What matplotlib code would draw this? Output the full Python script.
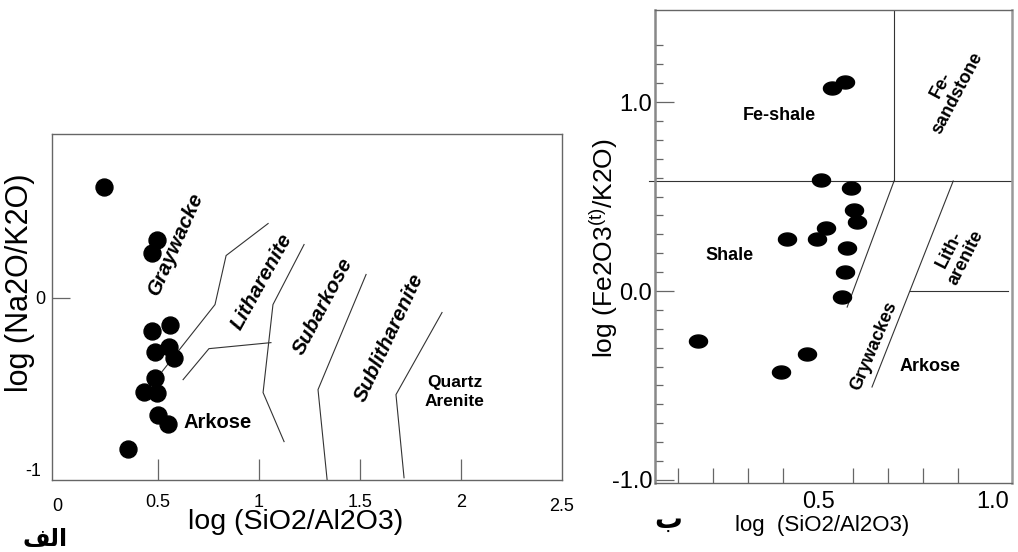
import numpy as np
import matplotlib
matplotlib.use("Agg")
import matplotlib.pyplot as plt
from matplotlib.path import Path

plt.rcParams['font.family'] = ['Liberation Sans', 'DejaVu Sans']
plt.rcParams['mathtext.fontset'] = 'custom'
plt.rcParams['mathtext.rm'] = 'Liberation Sans'
plt.rcParams['mathtext.it'] = 'Liberation Sans:italic'
plt.rcParams['mathtext.bf'] = 'Liberation Sans:bold'

# ---------------- data: panel A ----------------
a_x = [0.233, 0.495, 0.470, 0.470, 0.559, 0.485, 0.554, 0.579, 0.485, 0.431, 0.495, 0.500, 0.550, 0.351]
a_y = [0.645, 0.337, 0.256, -0.192, -0.157, -0.314, -0.285, -0.349, -0.465, -0.547, -0.552, -0.680, -0.733, -0.878]

a_line1_x = [1.045, 0.837, 0.782, 0.520]
a_line1_y = [0.430, 0.244, -0.041, -0.430]
a_line2_x = [0.624, 0.752, 1.059]
a_line2_y = [-0.477, -0.297, -0.262]
a_line3_x = [1.223, 1.069, 1.020, 1.124]
a_line3_y = [0.308, -0.041, -0.552, -0.837]
a_line4_x = [1.530, 1.292, 1.337]
a_line4_y = [0.134, -0.535, -1.058]
a_line5_x = [1.906, 1.678, 1.718]
a_line5_y = [-0.087, -0.564, -1.047]

a_xticks = [0.5, 1, 1.5, 2]
a_xticklabels = ['0.5', '1', '1.5', '2']
a_xticks_nomark = [0, 2.5]
a_xticklabels_nomark = ['0', '2.5']

# ---------------- data: panel B ----------------
b_x = [0.540, 0.577, 0.509, 0.594, 0.603, 0.611, 0.523, 0.411, 0.497, 0.583, 0.577, 0.569, 0.157, 0.469, 0.394]
b_y = [1.074, 1.106, 0.587, 0.545, 0.429, 0.365, 0.333, 0.275, 0.275, 0.227, 0.100, -0.032, -0.265, -0.333, -0.429]

b_hline_y = 0.582
b_vline_x = 0.717
b_diag1_x = [0.717, 0.583]
b_diag1_y = [0.582, -0.085]
b_diag2_x = [0.886, 0.654]
b_diag2_y = [0.582, -0.508]
b_short_x = [0.762, 1.043]
b_short_y = [0.0, 0.0]

fig = plt.figure(figsize=(10.18, 5.52), dpi=100)

spine_col = '#666666'
line_col = '#333333'

# ================= Panel A =================
ax1 = fig.add_axes([52/1018, 1-480/552, 510/1018, 346/552])
ax1.set_xlim(-0.025, 2.5)
ax1.set_ylim(-1.06, 0.95)
for s in ax1.spines.values():
    s.set_color(spine_col)
    s.set_linewidth(1.0)

for lx, ly in [(a_line1_x, a_line1_y), (a_line2_x, a_line2_y), (a_line3_x, a_line3_y),
               (a_line4_x, a_line4_y), (a_line5_x, a_line5_y)]:
    ax1.plot(lx, ly, color=line_col, lw=0.8, zorder=1)

ax1.plot(a_x, a_y, 'o', color='black', ms=12.2, mec='black', zorder=3)

ax1.set_xticks(a_xticks, a_xticklabels)
ax1.set_xticks(a_xticks_nomark, a_xticklabels_nomark, minor=True)
ax1.set_yticks([0], ['0'])
ax1.set_yticks([-1], ['-1'], minor=True)
ax1.tick_params(axis='x', which='major', direction='in', length=15, width=0.9,
                color=spine_col, labelsize=13, pad=10)
ax1.tick_params(axis='x', which='minor', length=0, labelsize=13, pad=13)
ax1.tick_params(axis='y', which='major', direction='in', length=13, width=0.9,
                color=spine_col, labelsize=13, pad=5)
ax1.tick_params(axis='y', which='minor', length=0, labelsize=13, pad=8)

ax1.set_xlabel('log (SiO2/Al2O3)', fontsize=20.5)
ax1.xaxis.set_label_coords((296-52)/510, (480-522)/346)
ax1.set_ylabel('log (Na2O/K2O)', fontsize=22)
ax1.yaxis.set_label_coords((20-52)/510, (480-283)/346)
ax1.xaxis.label.set_va('center')
ax1.yaxis.label.set_va('center')

lab = dict(fontweight='bold', fontstyle='italic', fontsize=15,
           ha='center', va='center', rotation_mode='anchor')
ax1.text(0.588, 0.315, 'Graywacke', rotation=66, **lab)
ax1.text(1.013, 0.09, 'Litharenite', rotation=61, **lab)
ax1.text(1.316, -0.052, 'Subarkose', rotation=62, **lab)
ax1.text(1.644, -0.233, 'Sublitharenite', rotation=65, **lab)
ax1.text(0.797, -0.727, 'Arkose', fontweight='bold', fontsize=14.5, ha='center', va='center')
ax1.text(1.97, -0.55, 'Quartz\nArenite', fontweight='bold', fontsize=12.5,
         ha='center', va='center', linespacing=1.3)

fig.text(45/1018, 1-546/552, '\ufed2\ufedf\ufe8d', fontsize=17, fontweight='bold',
         family=['DejaVu Sans'], ha='center', va='baseline')

# ================= Panel B =================
ax2 = fig.add_axes([655/1018, 1-483/552, 357/1018, 473/552])
ax2.set_xlim(0.034, 1.054)
ax2.set_ylim(-1.016, 1.487)
for s in ax2.spines.values():
    s.set_color(spine_col)
    s.set_linewidth(1.0)
ax2.spines['left'].set_color('#888888')
ax2.spines['left'].set_linewidth(1.8)
ax2.spines['right'].set_color('#999999')
ax2.spines['right'].set_linewidth(1.8)

ax2.plot([0.018, 1.054], [b_hline_y, b_hline_y], color=line_col, lw=0.8, clip_on=False, zorder=1)
ax2.plot([b_vline_x, b_vline_x], [b_hline_y, 1.487], color=line_col, lw=0.8, zorder=1)
ax2.plot(b_diag1_x, b_diag1_y, color=line_col, lw=0.8, zorder=1)
ax2.plot(b_diag2_x, b_diag2_y, color=line_col, lw=0.8, zorder=1)
ax2.plot(b_short_x, b_short_y, color=line_col, lw=0.8, zorder=1)

th = np.linspace(0, 2*np.pi, 80)
ell = Path(np.column_stack([np.cos(th), 0.72*np.sin(th)]), closed=True)
ax2.plot(b_x, b_y, linestyle='none', marker=ell, color='black', ms=13, zorder=3)

ax2.set_yticks([-1.0, 0.0, 1.0], ['-1.0', '0.0', '1.0'])
ax2.set_yticks(np.round(np.arange(-0.9, 1.35, 0.1), 2), minor=True)
ax2.set_xticks([0.5, 1.0], ['0.5', '1.0'])
ax2.set_xticks([0.1, 0.2, 0.3, 0.4, 0.5, 0.6, 0.7, 0.8, 0.9], minor=True)
ax2.tick_params(axis='y', which='major', direction='in', length=14, width=0.9,
                color=spine_col, labelsize=17, pad=2)
ax2.tick_params(axis='y', which='minor', direction='in', length=6, width=0.9, color=spine_col)
ax2.tick_params(axis='x', which='major', length=0, labelsize=17, pad=6)
ax2.tick_params(axis='x', which='minor', direction='in', length=11, width=0.9, color=spine_col)

ax2.set_xlabel('log  (SiO2/Al2O3)', fontsize=16)
ax2.xaxis.set_label_coords((822-655)/357, (483-526)/473)
ax2.xaxis.label.set_va('center')
ax2.set_ylabel(r'log (Fe2O3$^{\mathrm{(t)}}$/K2O)', fontsize=19)
ax2.yaxis.set_label_coords((604-655)/357, (483-248)/473)
ax2.yaxis.label.set_va('center')

bl = dict(fontweight='bold', fontsize=13, ha='center', va='center')
ax2.text(0.39, 0.93, 'Fe-shale', **bl)
ax2.text(0.246, 0.19, 'Shale', **bl)
ax2.text(0.82, -0.40, 'Arkose', **bl)
ax2.text(0.66, -0.29, 'Grywackes', rotation=67, rotation_mode='anchor', **bl)
ax2.text(0.875, 1.07, 'Fe-\nsandstone', rotation=62, rotation_mode='anchor',
         linespacing=1.1, **bl)
ax2.text(0.90, 0.20, 'Lith-\narenite', rotation=63, rotation_mode='anchor',
         linespacing=1.1, **bl)

fig.text(668/1018, 1-528/552, '\ufe8f', fontsize=20, fontweight='bold',
         family=['DejaVu Sans'], ha='center', va='baseline')

fig.savefig('out.png', dpi=100)
